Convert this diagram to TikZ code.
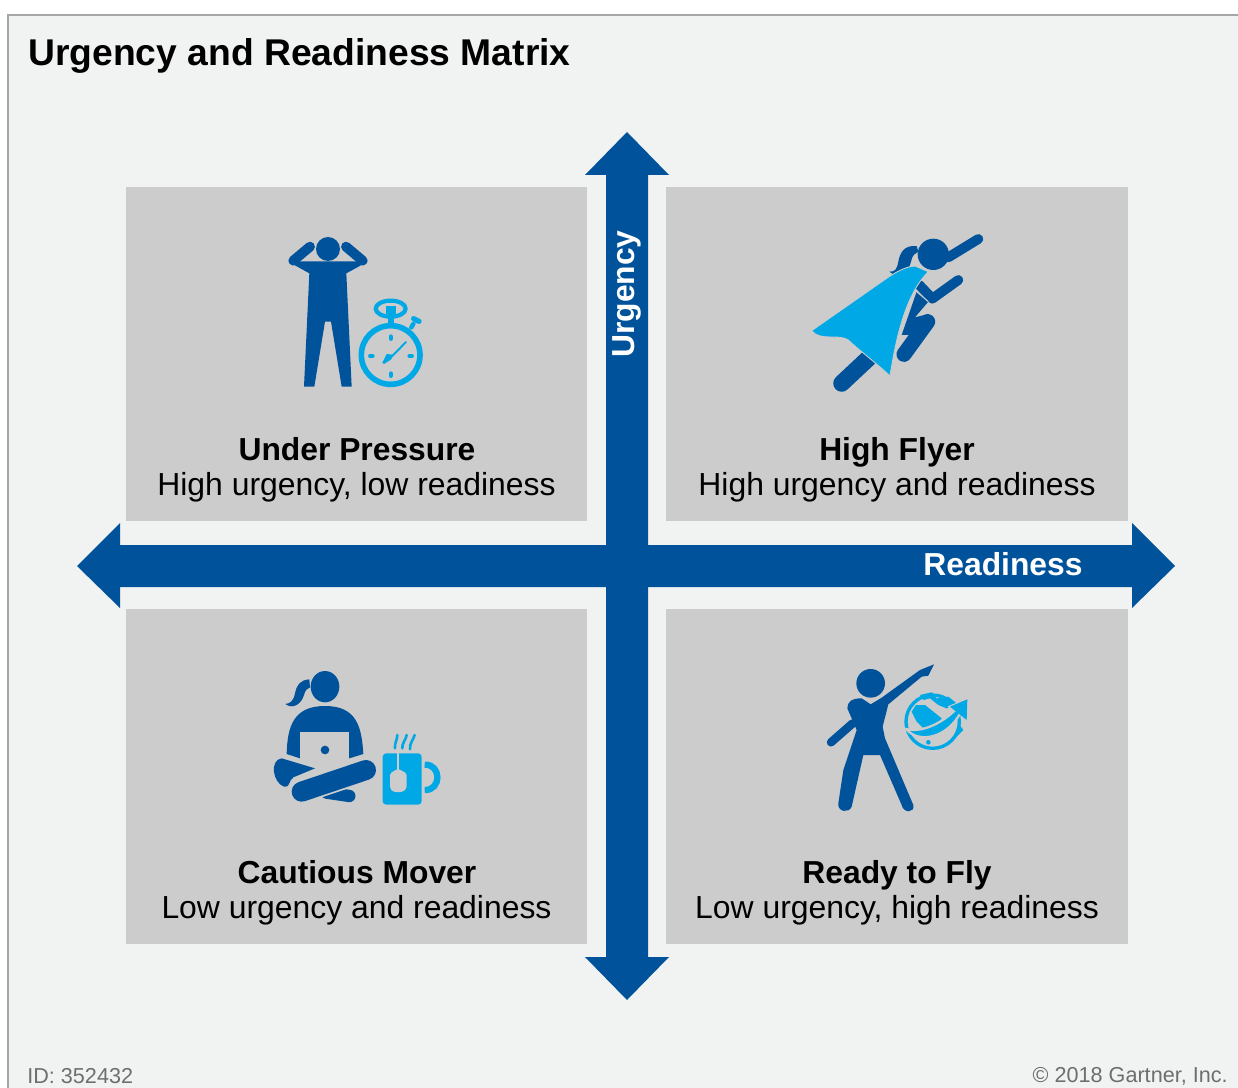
\documentclass[tikz,border=0pt]{standalone}
\usepackage{fontspec}
\setmainfont{Liberation Sans}
\usepackage{xcolor}
\usepackage{tikz}
\definecolor{panelgray}{HTML}{F1F3F2}
\definecolor{boxgray}{HTML}{CCCCCC}
\definecolor{axisblue}{HTML}{00539B}
\definecolor{iconcyan}{HTML}{00A9E6}
\definecolor{notegray}{HTML}{6E6E6E}
\tikzstyle{quadbox} = [rectangle,
minimum width=9.23cm,
minimum height=6.7cm,
inner sep=0pt,
fill=boxgray]
\tikzstyle{quadtitle} = [font=\fontsize{18.1}{20}\selectfont\bfseries, anchor=base, inner sep=0pt]
\tikzstyle{quadtext} = [font=\fontsize{18.15}{20}\selectfont, anchor=base, inner sep=0pt]
\tikzstyle{axistext} = [font=\fontsize{18.1}{20}\selectfont\bfseries, text=white, inner sep=0pt]
\tikzstyle{notetext} = [font=\fontsize{12.3}{14}\selectfont, text=notegray, inner sep=0pt]
\tikzstyle{limb} = [draw=axisblue, line width=5.6pt, line cap=round, line join=round]
\tikzstyle{ring} = [draw=iconcyan, line cap=round, line join=round]

\begin{document}
\begin{tikzpicture}[x=0.02cm,y=-0.02cm]
\useasboundingbox (0,0) rectangle (1238,1088);

% Panel
\fill[panelgray] (8,15) rectangle (1238,1088);
\draw[gray!70, line width=0.6pt] (8,1088) -- (8,15) -- (1238,15);

% Title
\node[anchor=west, font=\fontsize{21.2}{24}\selectfont\bfseries, inner sep=0pt] (title) at (28,56) {Urgency and Readiness Matrix};

% Quadrants
\node[quadbox] (pressure) at (356.5,354) {};
\node[quadbox] (flyer) at (897,354) {};
\node[quadbox] (mover) at (356.5,776.5) {};
\node[quadbox] (ready) at (897,776.5) {};

% Axes
\fill[axisblue] (627,132) -- (669,175) -- (648,175) -- (648,545) -- (1132,545) -- (1132,523)
  -- (1175,566) -- (1132,608) -- (1132,587) -- (648,587) -- (648,957) -- (669,957) -- (627,1000)
  -- (585,957) -- (606,957) -- (606,587) -- (120,587) -- (120,608) -- (77,566) -- (120,523)
  -- (120,545) -- (606,545) -- (606,175) -- (585,175) -- cycle;
\node[axistext, rotate=90] (urgency) at (627,294) {Urgency};
\node[axistext] (readiness) at (1003,564) {Readiness};

% Quadrant texts
\node[quadtitle] (pressuretitle) at (357,460) {Under Pressure};
\node[quadtext] (pressuretext) at (356.5,495) {High urgency, low readiness};
\node[quadtitle] (flyertitle) at (897,460) {High Flyer};
\node[quadtext] (flyertext) at (897,495) {High urgency and readiness};
\node[quadtitle] (movertitle) at (357,883) {Cautious Mover};
\node[quadtext] (movertext) at (356.5,918) {Low urgency and readiness};
\node[quadtitle] (readytitle) at (897,883) {Ready to Fly};
\node[quadtext] (readytext) at (897,918) {Low urgency, high readiness};

% Footer
\node[notetext, anchor=west] (idnote) at (27,1076) {ID: 352432};
\node[notetext, anchor=east] (copynote) at (1228,1076) {© 2018 Gartner, Inc.};

% Icon: man with stopwatch
\begin{scope}[shift={(260,220)},scale=1/3]
\fill[axisblue] (204,87) circle (36);
\draw[limb] (100,122) -- (150,80);
\draw[limb] (308,122) -- (258,80);
\fill[axisblue] (85,125) -- (148,160) -- (132,500) -- (163,500) -- (195,305) -- (213,305)
  -- (245,500) -- (275,500) -- (259,160) -- (323,125) -- (280,124) -- (125,124) -- cycle;
\draw[ring, line width=3.2pt] (392,405) circle (88);
\draw[ring, line width=2.4pt] (392,266) ellipse (45 and 24);
\fill[iconcyan] (377,258) rectangle (408,282);
\fill[iconcyan] (384,282) rectangle (401,312);
\draw[ring, line width=3pt] (461,296) -- (477,304);
\draw[ring, line width=2.6pt] (460,312) -- (454,322);
\draw[ring, line width=2.2pt] (392,349) -- (392,357);
\draw[ring, line width=2.2pt] (392,460) -- (392,468);
\draw[ring, line width=2.2pt] (330,408) -- (338,408);
\draw[ring, line width=2.2pt] (448,408) -- (456,408);
\draw[ring, line width=1.1pt] (438,366) -- (395,410);
\fill[iconcyan] (398,404) -- (394,418) -- (372,432) -- (367,428) -- (380,402) -- cycle;
\end{scope}

% Icon: flying woman with cape
\begin{scope}[shift={(800,220)},scale=1/3]
\draw[limb] (445,112) -- (535,57);
\draw[limb] (358,195) -- (397,236) -- (475,180);
\draw[limb, line width=9.6pt] (205,415) -- (125,490);
\fill[axisblue] (350,215) -- (385,245) -- (345,292) -- (385,282) -- (405,305) -- (325,345) -- (305,345) -- cycle;
\draw[limb, line width=8.6pt] (383,305) -- (312,403);
\draw[boxgray, line width=0.6pt] (350,215) -- (385,245);
\fill[axisblue] (400,103) circle (47);
\fill[axisblue] (350,78) .. controls (310,75) and (300,100) .. (295,125) .. controls (290,150) and (285,155) .. (268,155)
  .. controls (290,175) and (325,165) .. (333,125) .. controls (337,105) and (345,100) .. (355,95) -- cycle;
\fill[iconcyan, draw=boxgray, line width=0.5pt] (35,332) -- (270,168) .. controls (300,150) and (320,140) .. (345,138)
  -- (385,155) .. controls (320,220) and (290,340) .. (270,468)
  .. controls (230,430) and (170,385) .. (145,360) .. controls (115,340) and (60,365) .. (35,332) -- cycle;
\end{scope}

% Icon: woman with laptop and mug
\begin{scope}[shift={(260,660)},scale=1/3]
\fill[axisblue] (195,80) ellipse (43 and 47);
\fill[axisblue] (148,58) .. controls (120,60) and (110,75) .. (105,100) .. controls (100,125) and (90,130) .. (76,132)
  .. controls (100,150) and (125,130) .. (132,105) .. controls (136,90) and (142,85) .. (150,82) -- cycle;
\fill[axisblue] (80,282) .. controls (82,200) and (100,138) .. (195,138) .. controls (290,138) and (305,200) .. (310,282)
  -- (268,295) -- (120,295) -- cycle;
\fill[boxgray] (120,215) rectangle (268,300);
\fill[axisblue] (195,270) circle (13);
\fill[axisblue] (65,295) -- (165,325) -- (100,352) .. controls (85,362) and (90,385) .. (72,380)
  .. controls (38,368) and (28,300) .. (65,295) -- cycle;
\draw[limb, line width=7pt] (200,398) -- (268,408);
\draw[boxgray, line width=14pt, line cap=butt] (125,393) -- (320,328);
\draw[limb, line width=11.4pt] (125,395) -- (318,330);
\fill[iconcyan, rounded corners=2pt] (368,280) rectangle (485,434);
\draw[ring, line width=3.6pt, line cap=butt] (494,314) .. controls (545,312) and (545,392) .. (494,390);
\fill[boxgray, rounded corners=1pt] (390,340) -- (414,326) -- (440,340) -- (440,385) -- (428,396) -- (400,396) -- (390,385) -- cycle;
\draw[boxgray, line width=0.7pt] (414,280) -- (414,330);
\draw[ring, line width=1.5pt] (405,265) .. controls (403,250) and (412,240) .. (412,225);
\draw[ring, line width=1.5pt] (427,265) .. controls (425,250) and (438,240) .. (440,225);
\draw[ring, line width=1.5pt] (450,268) .. controls (448,250) and (460,240) .. (464,225);
\end{scope}

% Icon: standing figure pointing at globe
\begin{scope}[shift={(810,655)},scale=1/3]
\fill[axisblue] (182,85) circle (43);
\draw[limb, line width=4.8pt] (128,205) -- (63,262);
\fill[axisblue] (372,28) -- (355,62) -- (335,65) -- (235,148) -- (218,215) -- (225,250) -- (310,450)
  .. controls (315,475) and (280,475) .. (275,450) -- (210,300) -- (160,300)
  -- (125,455) .. controls (118,475) and (82,472) .. (85,445) -- (100,345) -- (140,225) -- (112,160)
  .. controls (112,140) and (125,130) .. (155,130) -- (182,148) -- (215,128) -- (330,45) -- cycle;
\draw[ring, line width=1.9pt] (368,200) circle (80);
\fill[iconcyan] (305,170) -- (318,150) -- (345,150) -- (395,190) -- (375,215) -- (345,225) -- (320,200) -- cycle;
\fill[iconcyan] (330,120) -- (365,112) -- (380,130) -- (415,125) -- (440,145) -- (410,160) -- (385,150) -- (360,130) -- (340,135) -- cycle;
\fill[iconcyan] (445,205) -- (460,225) -- (435,250) -- (440,225) -- cycle;
\fill[iconcyan] (355,262) circle (7);
\fill[iconcyan, draw=boxgray, line width=1.3pt] (288,222) .. controls (340,235) and (400,200) .. (436,165) -- (420,155)
  -- (472,133) -- (470,195) -- (452,172) .. controls (415,245) and (330,270) .. (288,222) -- cycle;
\fill[iconcyan] (420,155) -- (472,133) -- (470,195) -- cycle;
\end{scope}

\end{tikzpicture}
\end{document}
